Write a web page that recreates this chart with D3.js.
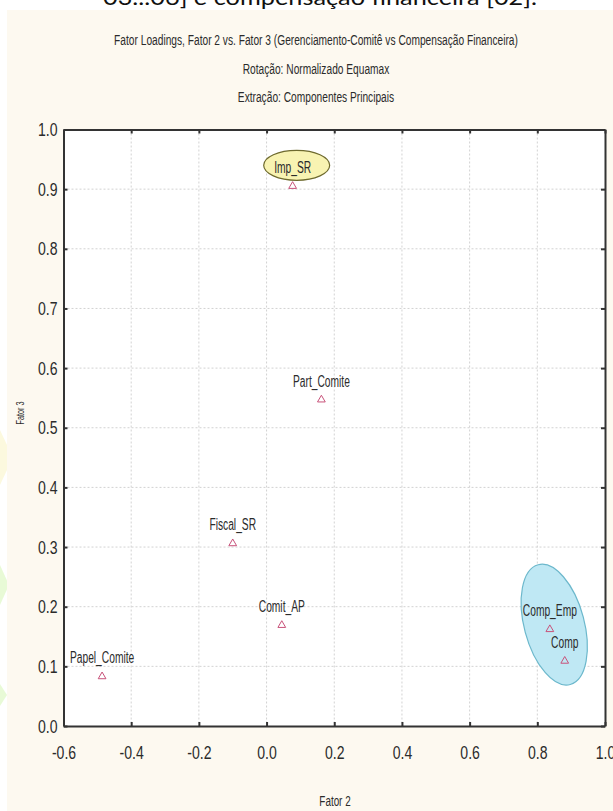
<!DOCTYPE html>
<html>
<head>
<meta charset="utf-8">
<script src="https://cdn.jsdelivr.net/npm/d3@7/dist/d3.min.js"></script>
<style>
  html, body { margin: 0; padding: 0; background: #ffffff; }
  svg { display: block; }
  text { font-family: "Liberation Sans", Arial, sans-serif; fill: #2b2b2b; }
</style>
</head>
<body>
<svg id="chart" width="613" height="811"></svg>
<script>
// Factor loadings: Fator 2 (x) against Fator 3 (y)
const variables = ["Imp_SR", "Part_Comite", "Fiscal_SR", "Comit_AP", "Papel_Comite", "Comp_Emp", "Comp"];
const fator2 = [0.077, 0.162, -0.100, 0.045, -0.486, 0.837, 0.881];
const fator3 = [0.905, 0.547, 0.306, 0.169, 0.083, 0.162, 0.109];

const xTicks = [-0.6, -0.4, -0.2, 0.0, 0.2, 0.4, 0.6, 0.8, 1.0];
const yTicks = [0.0, 0.1, 0.2, 0.3, 0.4, 0.5, 0.6, 0.7, 0.8, 0.9, 1.0];

// Highlighted groups (centre in factor units)
const groupNames = ["Gerenciamento", "Compensação"];
const groupCx = [0.089, 0.850];
const groupCy = [0.940, 0.170];

const titleLines = [
  "Fator Loadings, Fator 2 vs. Fator 3 (Gerenciamento-Comitê vs Compensação Financeira)",
  "Rotação: Normalizado Equamax",
  "Extração: Componentes Principais"
];
const captionText = "03...06] e compensação financeira [02].";

const svg = d3.select("#chart");

// page caption running off the top edge
svg.append("text")
  .attr("x", 103).attr("y", 5)
  .attr("textLength", 434).attr("lengthAdjust", "spacingAndGlyphs")
  .style("font-family", "Lato, 'Open Sans', sans-serif")
  .style("font-size", "22px").style("fill", "#111")
  .text(captionText);

// faint decoration on the left margin
svg.append("path")
  .attr("d", "M0,430 L7,445 L7,470 L0,485 Z")
  .attr("fill", "#fbf7d6").attr("opacity", 0.8);
svg.append("path")
  .attr("d", "M0,565 L9,585 L0,605 Z")
  .attr("fill", "#e6f9d2").attr("opacity", 0.9);
svg.append("path")
  .attr("d", "M0,684 L7,695 L0,706 Z")
  .attr("fill", "#e6f9d2").attr("opacity", 0.9);

// graph window background
svg.append("rect")
  .attr("x", 7).attr("y", 10).attr("width", 606).attr("height", 801)
  .attr("fill", "#fdf9f0");

const x = d3.scaleLinear().domain([-0.6, 1.0]).range([63.5, 605]);
const y = d3.scaleLinear().domain([0, 1]).range([726, 129.5]);

// helper: horizontally condensed text
function label(g, px, py, str, size, sx, anchor, rot) {
  const t = g.append("g")
    .attr("transform", `translate(${px},${py})` + (rot ? ` rotate(${rot})` : "") + ` scale(${sx},1)`);
  return t.append("text")
    .attr("text-anchor", anchor || "middle")
    .style("font-size", size + "px")
    .text(str);
}

// titles
titleLines.forEach((s, i) => {
  label(svg, 316, 45 + i * 28.5, s, 15, 0.68, "middle");
});

// plot area
svg.append("rect")
  .attr("x", x.range()[0]).attr("y", y.range()[1])
  .attr("width", x.range()[1] - x.range()[0])
  .attr("height", y.range()[0] - y.range()[1])
  .attr("fill", "#ffffff");

// grid
const grid = svg.append("g").attr("stroke", "#d2d2d2").attr("stroke-width", 1).attr("stroke-dasharray", "2,2");
grid.selectAll("line.v").data(xTicks.slice(1, -1)).join("line")
  .attr("x1", d => x(d)).attr("x2", d => x(d))
  .attr("y1", y.range()[1]).attr("y2", y.range()[0]);
grid.selectAll("line.h").data(yTicks.slice(1, -1)).join("line")
  .attr("y1", d => y(d)).attr("y2", d => y(d))
  .attr("x1", x.range()[0]).attr("x2", x.range()[1]);

// group ellipses
const groupShape = [
  { rx: 33, ry: 15, rot: 0, fill: "#f8f3b2", stroke: "#6e6a2e" },
  { rx: 30, ry: 62, rot: -15, fill: "#bfe8f4", stroke: "#6cb8cc" }
];
svg.selectAll("ellipse.grp").data(groupNames).join("ellipse")
  .attr("class", "grp")
  .attr("cx", 0).attr("cy", 0)
  .attr("rx", (d, i) => groupShape[i].rx)
  .attr("ry", (d, i) => groupShape[i].ry)
  .attr("transform", (d, i) => `translate(${x(groupCx[i])},${y(groupCy[i])}) rotate(${groupShape[i].rot})`)
  .attr("fill", (d, i) => groupShape[i].fill)
  .attr("stroke", (d, i) => groupShape[i].stroke)
  .attr("stroke-width", 1.2);

// axes with inward ticks; plain hyphen for negatives
const fmt = d => d3.format(".1f")(d).replace("\u2212", "-");
const axL = svg.append("g").attr("transform", `translate(${x.range()[0]},0)`)
  .call(d3.axisLeft(y).tickValues(yTicks).tickFormat(fmt).tickSizeInner(-4).tickSizeOuter(0).tickPadding(8));
const axB = svg.append("g").attr("transform", `translate(0,${y.range()[0]})`)
  .call(d3.axisBottom(x).tickValues(xTicks).tickFormat(fmt).tickSizeInner(-4).tickSizeOuter(0).tickPadding(20));
const axT = svg.append("g").attr("transform", `translate(0,${y.range()[1]})`)
  .call(d3.axisTop(x).tickValues(xTicks).tickFormat("").tickSizeInner(-4).tickSizeOuter(0));
const axR = svg.append("g").attr("transform", `translate(${x.range()[1]},0)`)
  .call(d3.axisRight(y).tickValues(yTicks).tickFormat("").tickSizeInner(-4).tickSizeOuter(0));

[axL, axB, axT, axR].forEach(a => {
  a.attr("font-family", null);
  a.select(".domain").attr("stroke", "#333").attr("stroke-width", 2);
  a.selectAll(".tick line").attr("stroke", "#333").attr("stroke-width", 2);
});
axL.selectAll(".tick text").style("font-size", "19px").attr("fill", "#333")
  .attr("transform", "scale(0.74,1)");
axB.selectAll(".tick text").style("font-size", "19px").attr("fill", "#333")
  .attr("transform", "scale(0.74,1)");

// axis titles
label(svg, 335, 806, "Fator 2", 15, 0.66, "middle");
label(svg, 24, 413, "Fator 3", 11, 0.66, "middle", -90);

// points and labels
const pts = svg.append("g");
const tri = d3.symbol().type(d3.symbolTriangle).size(26);
pts.selectAll("path.pt").data(variables).join("path")
  .attr("class", "pt")
  .attr("d", tri)
  .attr("transform", (d, i) => `translate(${x(fator2[i])},${y(fator3[i])})`)
  .attr("fill", "none").attr("stroke", "#c8527a").attr("stroke-width", 1);

variables.forEach((v, i) => {
  label(pts, x(fator2[i]), y(fator3[i]) - 13, v, 16, 0.64, "middle");
});
</script>
</body>
</html>
